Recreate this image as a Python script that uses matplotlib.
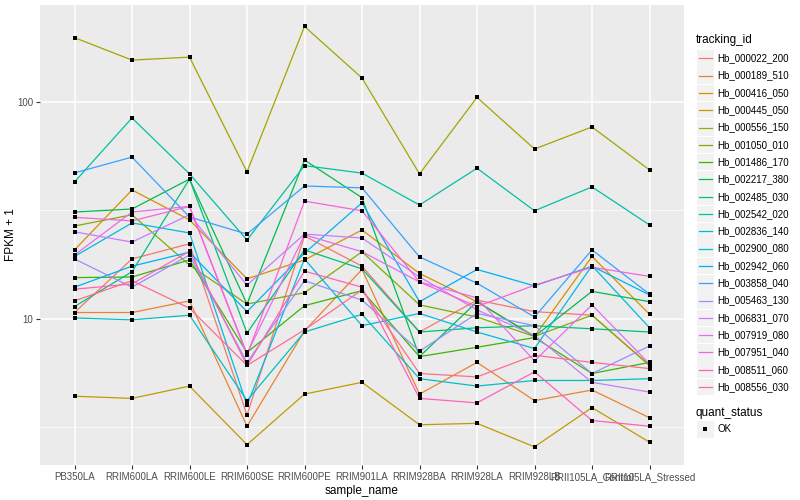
import numpy as np
import matplotlib
matplotlib.use('Agg')
import matplotlib.pyplot as plt
from matplotlib.patches import Rectangle
from matplotlib.lines import Line2D

plt.rcParams['font.family'] = ['Liberation Sans', 'DejaVu Sans']

samples = ['PB350LA', 'RRIM600LA', 'RRIM600LE', 'RRIM600SE', 'RRIM600PE', 'RRIM901LA',
           'RRIM928BA', 'RRIM928LA', 'RRIM928LB', 'RRII105LA_Control', 'RRII105LA_Stressed']

ids = ['Hb_000022_200', 'Hb_000189_510', 'Hb_000416_050', 'Hb_000445_050', 'Hb_000556_150',
       'Hb_001050_010', 'Hb_001486_170', 'Hb_002217_380', 'Hb_002485_030', 'Hb_002542_020',
       'Hb_002836_140', 'Hb_002900_080', 'Hb_002942_060', 'Hb_003858_040', 'Hb_005463_130',
       'Hb_006831_070', 'Hb_007919_080', 'Hb_007951_040', 'Hb_008511_060', 'Hb_008556_030']

# ggplot default hue palette, 20 levels
colors = ['#F8766D', '#EA8331', '#D89000', '#C09B00', '#A3A500', '#7CAE00', '#39B600', '#00BB4E',
          '#00BF7D', '#00C1A3', '#00BFC4', '#00BAE0', '#00B0F6', '#35A2FF', '#9590FF', '#C77CFF',
          '#E76BF3', '#FA62DB', '#FF62BC', '#FF6C91']

# FPKM + 1, one list per tracking_id (same order as samples)
hb_000022_200 = [10.7, 18.9, 22.2, 3.6, 24.1, 17.5, 8.7, 12.2, 10.8, 10.4, 6.1]
hb_000189_510 = [10.7, 10.7, 12.1, 3.2, 8.8, 16.9, 4.5, 6.3, 4.2, 4.7, 3.5]
hb_000416_050 = [20.8, 39.3, 28.6, 15.3, 18.7, 25.7, 16.2, 12.0, 8.3, 19.4, 10.5]
hb_000445_050 = [4.4, 4.3, 4.9, 2.63, 4.5, 5.1, 3.25, 3.3, 2.57, 3.9, 2.7]
hb_000556_150 = [198, 156, 161, 47.6, 223, 129, 46.6, 105, 60.7, 76.7, 48.6]
hb_001050_010 = [26.8, 30.2, 17.7, 11.7, 13.2, 20.4, 11.6, 10.2, 8.3, 10.4, 6.1]
hb_001486_170 = [15.5, 15.6, 18.7, 7.0, 11.5, 13.5, 6.7, 7.4, 8.2, 5.6, 6.3]
hb_002217_380 = [31.1, 32.1, 44.1, 11.7, 54.0, 36.2, 6.7, 12.0, 8.3, 13.4, 12.0]
hb_002485_030 = [11.4, 16.5, 44.1, 8.6, 20.8, 17.0, 8.7, 9.1, 9.3, 9.0, 8.7]
hb_002542_020 = [42.8, 84.4, 46.6, 23.1, 50.9, 47.0, 33.5, 49.5, 31.5, 40.6, 27.1]
hb_002836_140 = [10.1, 9.9, 10.4, 4.2, 8.7, 10.5, 5.3, 4.9, 5.2, 5.2, 5.3]
hb_002900_080 = [19.4, 27.7, 24.9, 4.0, 18.9, 9.3, 10.6, 8.7, 7.3, 17.6, 9.1]
hb_002942_060 = [14.0, 17.5, 20.3, 10.8, 20.1, 34.3, 12.0, 16.9, 14.2, 17.5, 12.9]
hb_003858_040 = [47.1, 55.7, 29.5, 24.6, 41.0, 40.2, 19.3, 14.6, 10.2, 20.8, 13.0]
hb_005463_130 = [18.9, 14.0, 19.7, 6.3, 15.0, 12.2, 7.1, 10.6, 9.3, 5.6, 7.5]
hb_006831_070 = [25.2, 22.6, 30.2, 14.3, 24.6, 23.6, 15.6, 11.0, 8.4, 5.1, 4.6]
hb_007919_080 = [19.7, 31.1, 33.0, 6.9, 24.4, 20.4, 14.8, 12.5, 6.4, 11.6, 6.2]
hb_007951_040 = [29.4, 28.3, 33.0, 6.8, 34.9, 31.5, 14.8, 11.4, 14.3, 17.3, 15.7]
hb_008511_060 = [13.7, 14.5, 20.5, 6.1, 16.6, 14.0, 4.3, 4.1, 5.7, 3.4, 3.2]
hb_008556_030 = [12.1, 15.0, 11.2, 6.1, 8.9, 13.6, 5.6, 5.4, 6.8, 6.3, 5.9]

series = [hb_000022_200, hb_000189_510, hb_000416_050, hb_000445_050, hb_000556_150,
          hb_001050_010, hb_001486_170, hb_002217_380, hb_002485_030, hb_002542_020,
          hb_002836_140, hb_002900_080, hb_002942_060, hb_003858_040, hb_005463_130,
          hb_006831_070, hb_007919_080, hb_007951_040, hb_008511_060, hb_008556_030]

fig = plt.figure(figsize=(8, 5), dpi=100)
ax = fig.add_axes([40/800, 1-465/500, 644/800, 460/500])
ax.set_facecolor('#EBEBEB')

x = np.arange(len(samples))
for vals, c in zip(series, colors):
    ax.plot(x, vals, color=c, lw=0.9, zorder=3)
for vals in series:
    ax.scatter(x, vals, s=6, marker='s', color='black', zorder=4, linewidths=0)

ax.set_yscale('log')
ax.set_ylim(2.12, 280)
ax.set_xlim(-0.6, len(samples) - 0.4)
ax.set_yticks([10, 100])
ax.set_yticklabels(['10', '100'])
ax.set_yticks([10**0.5, 10**1.5], minor=True)
ax.yaxis.set_minor_formatter(matplotlib.ticker.NullFormatter())
ax.set_xticks(x)
ax.set_xticklabels(samples)

ax.grid(True, which='major', color='white', lw=1.1, zorder=0)
ax.grid(True, which='minor', axis='y', color='white', lw=0.5, zorder=0)
ax.set_axisbelow(True)
for s in ax.spines.values():
    s.set_visible(False)
ax.tick_params(axis='both', which='major', length=3, color='#333333', labelsize=7, labelcolor='#4D4D4D', pad=2)
ax.tick_params(axis='y', which='minor', length=0)
ax.set_xlabel('sample_name', fontsize=8.5, labelpad=2)
ax.set_ylabel('FPKM + 1', fontsize=8.5)
ax.yaxis.set_label_coords(-0.036, 0.5)

# legend drawn in pixel space on the right
lg = fig.add_axes([0, 0, 1, 1])
lg.set_xlim(0, 800)
lg.set_ylim(500, 0)
lg.axis('off')
lg.text(696, 40, 'tracking_id', fontsize=8.5, va='center', ha='left')
for i, (name, c) in enumerate(zip(ids, colors)):
    yy = 58.3 + i * 17.3
    lg.add_patch(Rectangle((697, yy - 8.3), 16.6, 16.6, facecolor='#F2F2F2', edgecolor='none'))
    lg.add_line(Line2D([698.5, 711.5], [yy, yy], color=c, lw=0.9))
    lg.text(717, yy, name, fontsize=7, va='center', ha='left')
lg.text(696, 413, 'quant_status', fontsize=8.5, va='center', ha='left')
lg.add_patch(Rectangle((697, 421), 16.6, 16.6, facecolor='#F2F2F2', edgecolor='none'))
lg.scatter([705.3], [429.3], s=6, marker='s', color='black', linewidths=0)
lg.text(717, 429.3, 'OK', fontsize=7, va='center', ha='left')

fig.savefig('out.png', dpi=100)
